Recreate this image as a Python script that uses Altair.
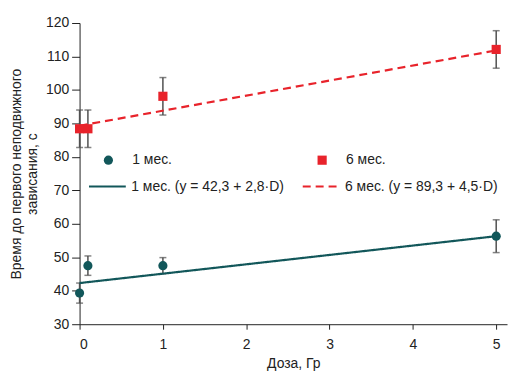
import altair as alt
import pandas as pd

# ---- data ----
dose = [0, 0.1, 1, 5]
grp_names = ["1 мес.", "6 мес."]
m1_mean = [39.3, 47.5, 47.5, 56.3]
m1_sd = [3.0, 2.9, 2.4, 4.9]
m6_mean = [88.4, 88.4, 98.1, 112.1]
m6_sd = [5.6, 5.6, 5.6, 5.6]

fit_names = ["1 мес. (y = 42,3 + 2,8·D)", "6 мес. (y = 89,3 + 4,5·D)"]
fit_x = [0, 5]
fit1_y = [42.3, 56.3]
fit6_y = [89.3, 111.8]

x_ticks = [0, 1, 2, 3, 4, 5]
y_ticks = [30, 40, 50, 60, 70, 80, 90, 100, 110, 120]

TEAL = "#12575a"
RED = "#e8232b"
GREY = "#505050"
FONT = "Liberation Sans"
FS = 14

rows = []
for g, means, sds in [(grp_names[0], m1_mean, m1_sd), (grp_names[1], m6_mean, m6_sd)]:
    for d, m, s in zip(dose, means, sds):
        rows.append({"dose": d, "mean": m, "lo": m - s, "hi": m + s, "grp": g})
pts = pd.DataFrame(rows)

frows = []
for name, ys in [(fit_names[0], fit1_y), (fit_names[1], fit6_y)]:
    for xv, yv in zip(fit_x, ys):
        frows.append({"dose": xv, "val": yv, "fit": name})
fits = pd.DataFrame(frows)

xscale = alt.Scale(domain=[0, 5.13], nice=False, zero=False)
yscale = alt.Scale(domain=[30, 120], nice=False, zero=False)

xaxis = alt.Axis(values=x_ticks, title="Доза, Гр", grid=False, tickSize=5,
                 labelPadding=8, titlePadding=6)
yaxis = alt.Axis(values=y_ticks, title=["Время до первого неподвижного", "зависания, с"],
                 grid=False, tickSize=8, labelPadding=3, titlePadding=6)

X = alt.X("dose:Q", scale=xscale, axis=xaxis)

err_rule = alt.Chart(pts).mark_rule(color=GREY, strokeWidth=1.5).encode(
    x=X, y=alt.Y("lo:Q", scale=yscale, axis=yaxis), y2="hi:Q")
err_lo = alt.Chart(pts).mark_tick(color=GREY, size=7, thickness=1.5, orient="horizontal").encode(
    x=X, y=alt.Y("lo:Q", scale=yscale, axis=yaxis))
err_hi = alt.Chart(pts).mark_tick(color=GREY, size=7, thickness=1.5, orient="horizontal").encode(
    x=X, y=alt.Y("hi:Q", scale=yscale, axis=yaxis))

line_legend = alt.Legend(title=None, orient="none", legendX=8, legendY=144.5,
                         direction="horizontal", symbolType="stroke", symbolSize=1369,
                         symbolStrokeWidth=2.2, labelFontSize=FS, labelColor="#222",
                         labelFont=FONT, labelOffset=4, columnPadding=14, padding=0,
                         labelLimit=400)
lines = alt.Chart(fits).mark_line(strokeWidth=2.2).encode(
    x=X,
    y=alt.Y("val:Q", scale=yscale, axis=yaxis),
    color=alt.Color("fit:N", scale=alt.Scale(domain=fit_names, range=[TEAL, RED]),
                    legend=line_legend),
    strokeDash=alt.StrokeDash("fit:N", scale=alt.Scale(domain=fit_names, range=[[1, 0], [8, 5]]),
                              legend=line_legend),
)

pt_legend = alt.Legend(title=None, orient="none", legendX=22, legendY=131,
                       direction="horizontal", symbolSize=85, labelFontSize=FS,
                       labelColor="#222", labelFont=FONT, labelOffset=17,
                       columnPadding=144, padding=0, symbolStrokeWidth=0)
points = alt.Chart(pts).mark_point(filled=True, opacity=1, size=85).encode(
    x=X,
    y=alt.Y("mean:Q", scale=yscale, axis=yaxis),
    color=alt.Color("grp:N", scale=alt.Scale(domain=grp_names, range=[TEAL, RED]),
                    legend=pt_legend),
    shape=alt.Shape("grp:N", scale=alt.Scale(domain=grp_names, range=["circle", "square"]),
                    legend=pt_legend),
)

chart = alt.layer(err_rule, err_lo, err_hi, lines, points).resolve_scale(
    color="independent", shape="independent", strokeDash="independent"
).resolve_legend(color="independent").properties(
    width=430, height=303,
    autosize=alt.AutoSizeParams(type="none"),
    padding={"left": 72, "top": 14, "right": 5, "bottom": 50},
).configure_view(stroke=None).configure_axis(
    labelFont=FONT, titleFont=FONT, labelFontSize=FS, titleFontSize=FS,
    titleFontWeight="normal", labelColor="#222", titleColor="#222",
    domainColor="#222", tickColor="#222", domainWidth=1, tickWidth=1,
)

chart.save("out.html", embed_options={"renderer": "svg", "actions": False})
